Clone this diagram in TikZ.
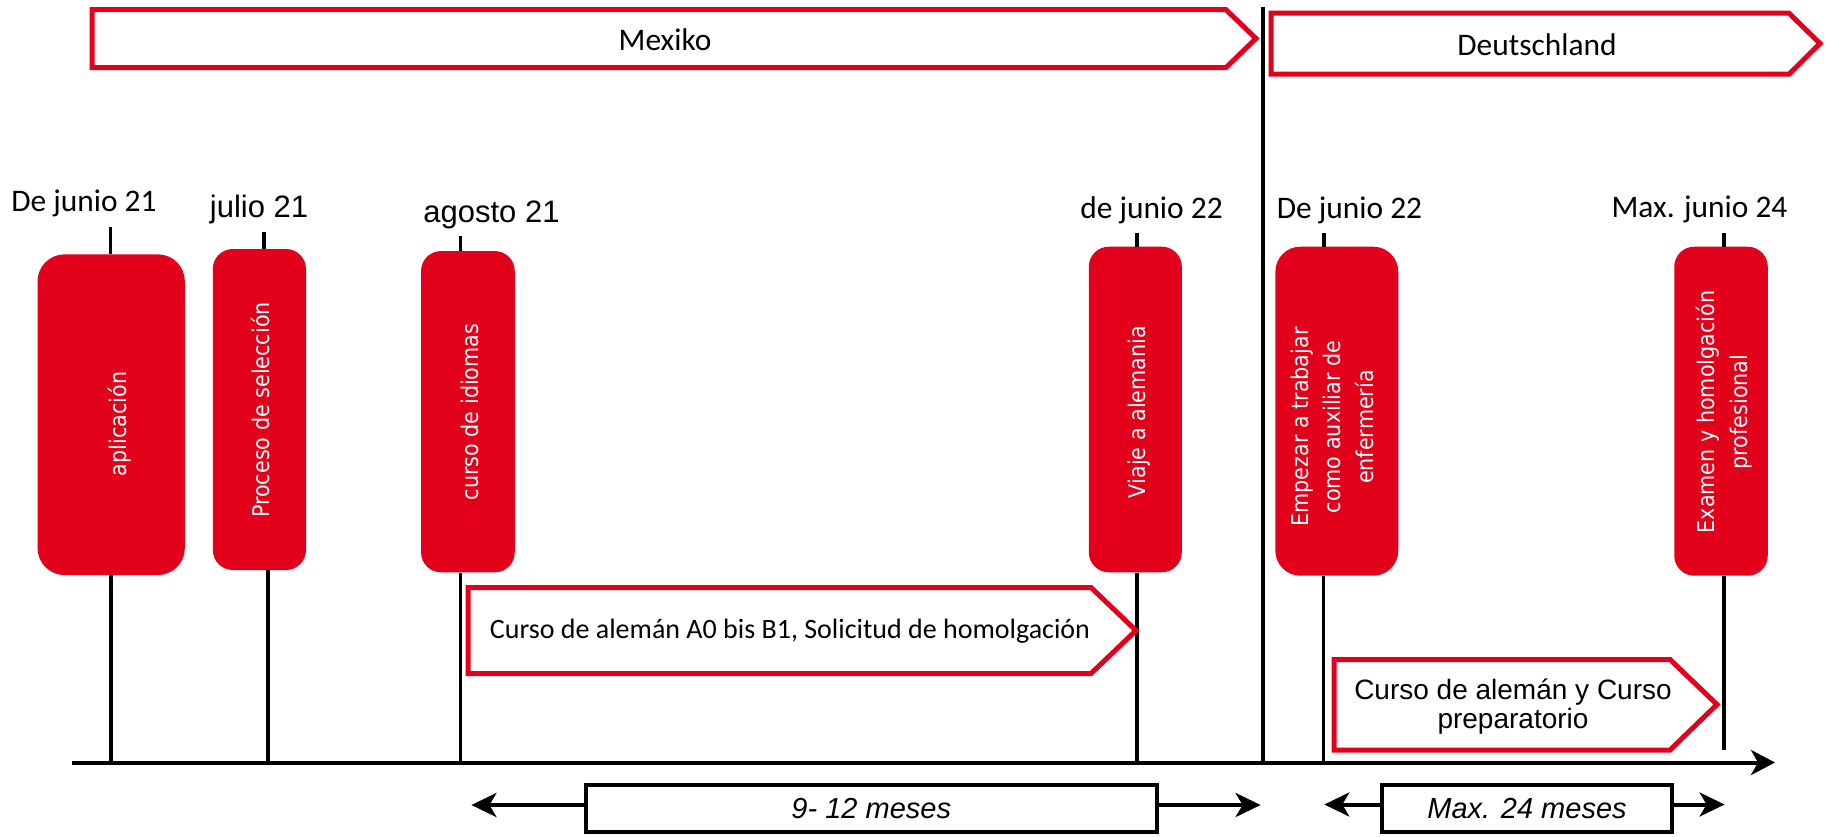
\documentclass[tikz,border=0pt]{standalone}
\usepackage{fontspec}
\setmainfont{Carlito}
\newfontfamily\arialf{Liberation Sans}
\newfontfamily\verd{DejaVu Sans}
\usetikzlibrary{arrows.meta}
\definecolor{dbred}{RGB}{226,0,26}
\begin{document}
\begin{tikzpicture}[x=1pt,y=-1pt,
  banner/.style={draw=dbred, line width=5pt, line join=miter, fill=white},
  pbox/.style={fill=dbred, draw=none, rounded corners=20pt, inner sep=0pt},
  vtxt/.style={text=white, rotate=90, xscale=0.9, font=\verd\fontsize{23}{32.5}\selectfont, align=center, inner sep=0pt},
  tline/.style={line width=3.5pt, black},
  datec/.style={font=\fontsize{31.4}{36}\selectfont, anchor=base, inner sep=0pt},
  datea/.style={font=\arialf\fontsize{31}{36}\selectfont, anchor=base, inner sep=0pt},
  bantxt/.style={font=\fontsize{31.4}{36}\selectfont, inner sep=0pt},
  durbox/.style={draw, line width=4pt, inner sep=0pt, font=\arialf\itshape\fontsize{29}{34}\selectfont},
  durarrow/.style={line width=4pt, -{Stealth[length=25pt,width=24pt,inset=7pt]}},
]
\useasboundingbox (0,0) rectangle (1830,836);

% top banners
\draw[banner] (92,9.7) -- (1226,9.7) -- (1256,38.5) -- (1226,67.5) -- (92,67.5) -- cycle;
\node[bantxt] (mex) at (665,40) {Mexiko};
\draw[banner] (1271,13.2) -- (1789,13.2) -- (1820,43.5) -- (1789,74.2) -- (1271,74.2) -- cycle;
\node[bantxt] (deu) at (1537,45) {Deutschland};

% divider
\coordinate (dtop) at (1263,7);
\coordinate (dbot) at (1263,762.5);
\draw[tline] (dtop) -- (dbot);

% date labels
\node[datec] (d1) at (84,211) {De junio 21};
\node[datea] (d2) at (259,217) {julio 21};
\node[datea] (d3) at (491.5,222) {agosto 21};
\node[datec] (d4) at (1151.5,218) {de junio 22};
\node[datec] (d5) at (1349.5,218) {De junio 22};
\node[datec] (d6) at (1699.5,217) {Max. junio 24};

% red boxes
\node[pbox, rounded corners=27pt, minimum width=147.3pt, minimum height=320.7pt] (b1) at (111.2,414.7) {};
\node[pbox, minimum width=93.2pt, minimum height=321pt] (b2) at (259.4,409.5) {};
\node[pbox, minimum width=93.7pt, minimum height=321.3pt] (b3) at (467.9,411.7) {};
\node[pbox, minimum width=93pt, minimum height=325.6pt] (b4) at (1135.3,409.5) {};
\node[pbox, rounded corners=25pt, minimum width=122.9pt, minimum height=329pt] (b5) at (1336.8,411.2) {};
\node[pbox, minimum width=93.5pt, minimum height=329pt] (b6) at (1721,411.2) {};

\node[vtxt] (x1) at (120,424) {aplicación};
\node[vtxt] (x2) at (260,410) {Proceso de selección};
\node[vtxt] (x3) at (470,412) {curso de idiomas};
\node[vtxt] (x4) at (1139,412) {Viaje a alemania};
\node[vtxt] (x5) at (1332,427) {Empezar a trabajar\\como auxiliar de\\enfermería};
\node[vtxt] (x6) at (1724,412) {Examen y homolgación\\profesional};

% ticks above boxes
\coordinate (t1) at (110.7,227);
\coordinate (t2) at (264,232);
\coordinate (t3) at (460.7,236);
\coordinate (t4) at (1137,233);
\coordinate (t5) at (1324,233);
\coordinate (t6) at (1724,233);
\draw[tline] (t1) -- (t1 |- b1.north);
\draw[tline] (t2) -- (t2 |- b2.north);
\draw[tline] (t3) -- (t3 |- b3.north);
\draw[tline] (t4) -- (t4 |- b4.north);
\draw[tline] (t5) -- (t5 |- b5.north);
\draw[tline] (t6) -- (t6 |- b6.north);

% axis
\coordinate (ax0) at (72,762.5);
\coordinate (ax1) at (1775,762.5);
\draw[line width=4pt, -{Stealth[length=24pt,width=25pt,inset=7pt]}] (ax0) -- (ax1);

% lines below boxes
\coordinate (u1) at (111,762.5);
\coordinate (u2) at (268,762.5);
\coordinate (u3) at (460.3,762.5);
\coordinate (u4) at (1137,762.5);
\coordinate (u5) at (1323.6,762.5);
\coordinate (u6) at (1724,750);
\draw[tline] (u1 |- b1.south) -- (u1);
\draw[tline] (u2 |- b2.south) -- (u2);
\draw[tline] (u3 |- b3.south) -- (u3);
\draw[tline] (u4 |- b4.south) -- (u4);
\draw[tline] (u5 |- b5.south) -- (u5);
\draw[tline] (u6 |- b6.south) -- (u6);

% lower banners
\draw[banner] (468,587.5) -- (1091,587.5) -- (1136,630.5) -- (1091,673.5) -- (468,673.5) -- cycle;
\node[font=\fontsize{28}{32}\selectfont, inner sep=0pt] (c1) at (790,631) {Curso de alemán A0 bis B1, Solicitud de homolgación};
\draw[banner] (1334,659.5) -- (1670,659.5) -- (1717,704.5) -- (1670,750) -- (1334,750) -- cycle;
\node[font=\arialf\fontsize{28}{29.3}\selectfont, align=center, inner sep=0pt, anchor=base] (c2) at (1513,728.3) {Curso de alemán y Curso\\preparatorio};

% duration boxes
\node[durbox, minimum width=570.5pt, minimum height=47.3pt] (m1) at (871.25,808.4) {9- 12 meses};
\coordinate (m1l) at (471.4,805);
\coordinate (m1r) at (1260.6,805);
\draw[durarrow] (m1l -| m1.west) -- (m1l);
\draw[durarrow] (m1r -| m1.east) -- (m1r);

\node[durbox, minimum width=290pt, minimum height=47.5pt] (m2) at (1527,808.25) {Max. 24 meses};
\coordinate (m2l) at (1324.3,804.5);
\coordinate (m2r) at (1724.6,804.5);
\draw[durarrow] (m2l -| m2.west) -- (m2l);
\draw[durarrow] (m2r -| m2.east) -- (m2r);
\end{tikzpicture}
\end{document}
